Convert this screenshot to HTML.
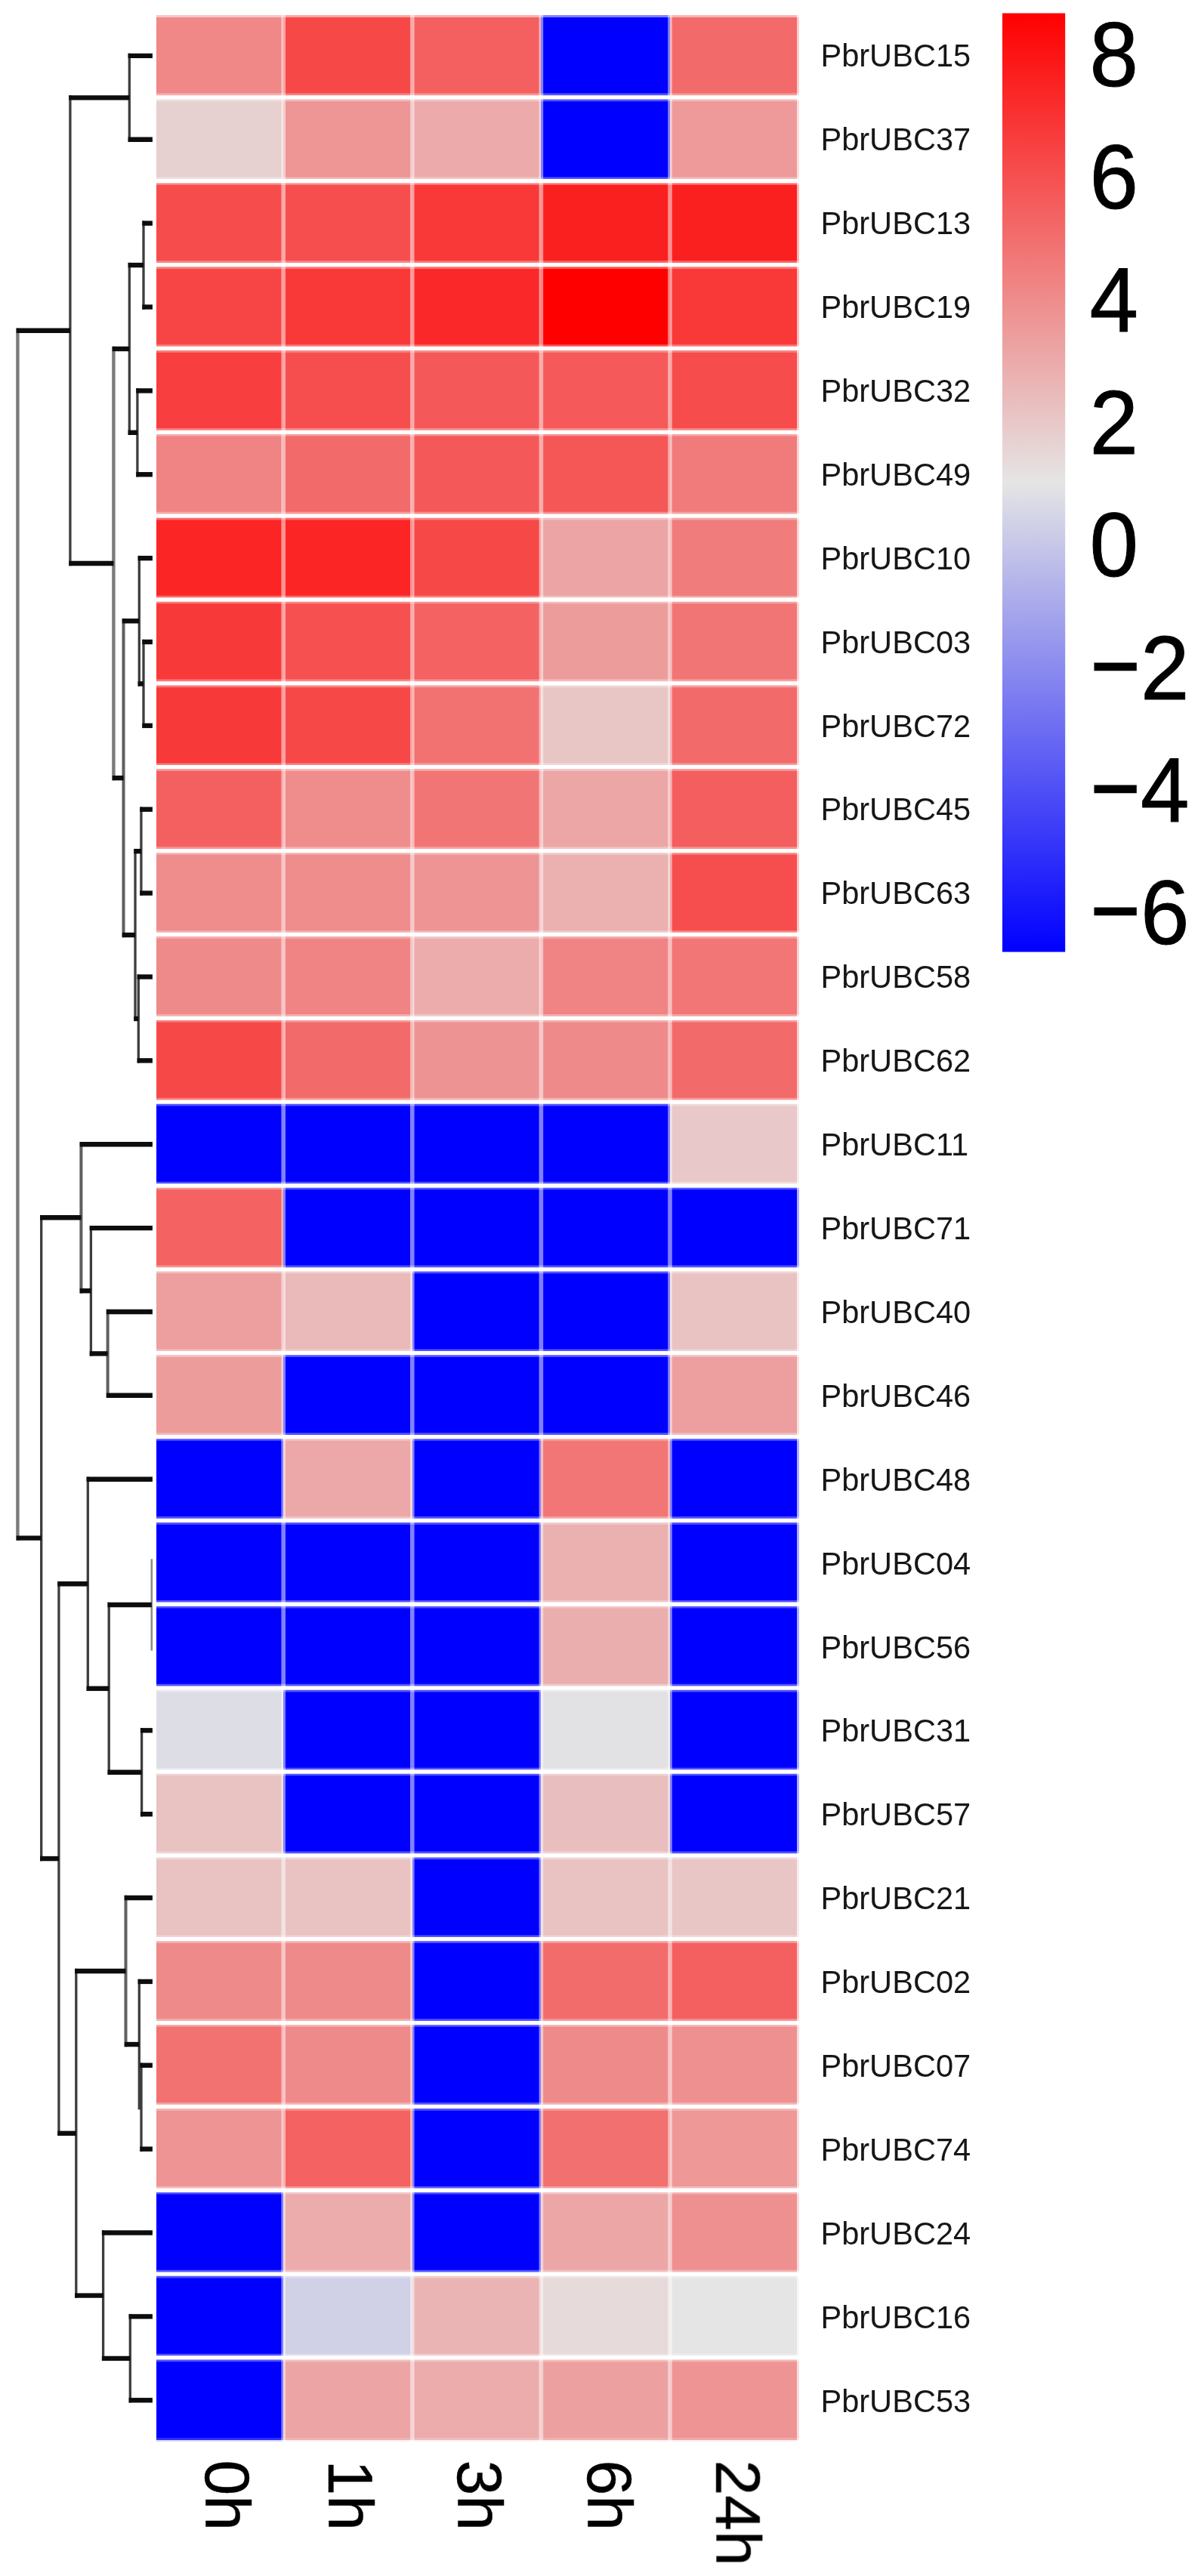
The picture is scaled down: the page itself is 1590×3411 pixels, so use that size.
<!DOCTYPE html>
<html lang="en"><head><meta charset="utf-8"><title>PbrUBC expression heatmap</title>
<style>
html,body{margin:0;padding:0;background:#fff;}
body{width:1590px;height:3411px;overflow:hidden;}
svg{display:block;}
text{font-family:"Liberation Sans",sans-serif;fill:#000;}
.rl{font-size:41.6px;fill:#161616;}
.cl{font-size:84px;stroke:#000;stroke-width:0.5;}
.lg{font-size:116px;stroke:#000;stroke-width:0.9;}
.mn{stroke-width:2.4;font-size:111px;}
.h{stroke:#0c0c0c;stroke-width:6.4;fill:none;stroke-linecap:butt;}
.v{stroke:#3c3c3c;stroke-width:3.3;fill:none;stroke-linecap:butt;}
</style></head><body>
<svg width="1590" height="3411" viewBox="0 0 1590 3411">
<defs><linearGradient id="cb" x1="0" y1="0" x2="0" y2="1"><stop offset="0" stop-color="#FF0000"/><stop offset="0.5" stop-color="#E5E5E5"/><stop offset="1" stop-color="#0000FF"/></linearGradient><filter id="soft" x="-5%" y="-5%" width="110%" height="110%"><feGaussianBlur stdDeviation="0.7"/></filter></defs>
<rect x="0" y="0" width="1590" height="3411" fill="#FFFFFF"/>
<g id="cells" shape-rendering="crispEdges">
<rect x="204.60" y="17.72" width="170.90" height="111.45" fill="#F08888"/>
<rect x="375.20" y="17.72" width="170.90" height="111.45" fill="#F74848"/>
<rect x="545.80" y="17.72" width="170.90" height="111.45" fill="#F46060"/>
<rect x="716.40" y="17.72" width="170.90" height="111.45" fill="#0000FF"/>
<rect x="887.00" y="17.72" width="170.90" height="111.45" fill="#F36A6A"/>
<rect x="204.60" y="128.58" width="170.90" height="111.45" fill="#E7D0D0"/>
<rect x="375.20" y="128.58" width="170.90" height="111.45" fill="#EE9595"/>
<rect x="545.80" y="128.58" width="170.90" height="111.45" fill="#ECAAAA"/>
<rect x="716.40" y="128.58" width="170.90" height="111.45" fill="#0000FF"/>
<rect x="887.00" y="128.58" width="170.90" height="111.45" fill="#EE9A9A"/>
<rect x="204.60" y="239.43" width="170.90" height="111.45" fill="#F64C4C"/>
<rect x="375.20" y="239.43" width="170.90" height="111.45" fill="#F64E4E"/>
<rect x="545.80" y="239.43" width="170.90" height="111.45" fill="#F93838"/>
<rect x="716.40" y="239.43" width="170.90" height="111.45" fill="#FB2020"/>
<rect x="887.00" y="239.43" width="170.90" height="111.45" fill="#FB2020"/>
<rect x="204.60" y="350.29" width="170.90" height="111.45" fill="#F74545"/>
<rect x="375.20" y="350.29" width="170.90" height="111.45" fill="#F93838"/>
<rect x="545.80" y="350.29" width="170.90" height="111.45" fill="#FA2828"/>
<rect x="716.40" y="350.29" width="170.90" height="111.45" fill="#FF0000"/>
<rect x="887.00" y="350.29" width="170.90" height="111.45" fill="#F93838"/>
<rect x="204.60" y="461.14" width="170.90" height="111.45" fill="#F83E3E"/>
<rect x="375.20" y="461.14" width="170.90" height="111.45" fill="#F64E4E"/>
<rect x="545.80" y="461.14" width="170.90" height="111.45" fill="#F55858"/>
<rect x="716.40" y="461.14" width="170.90" height="111.45" fill="#F55959"/>
<rect x="887.00" y="461.14" width="170.90" height="111.45" fill="#F64C4C"/>
<rect x="204.60" y="572.00" width="170.90" height="111.45" fill="#F08383"/>
<rect x="375.20" y="572.00" width="170.90" height="111.45" fill="#F36A6A"/>
<rect x="545.80" y="572.00" width="170.90" height="111.45" fill="#F55858"/>
<rect x="716.40" y="572.00" width="170.90" height="111.45" fill="#F55656"/>
<rect x="887.00" y="572.00" width="170.90" height="111.45" fill="#F17A7A"/>
<rect x="204.60" y="682.85" width="170.90" height="111.45" fill="#FB2525"/>
<rect x="375.20" y="682.85" width="170.90" height="111.45" fill="#FB2525"/>
<rect x="545.80" y="682.85" width="170.90" height="111.45" fill="#F74848"/>
<rect x="716.40" y="682.85" width="170.90" height="111.45" fill="#ECA4A4"/>
<rect x="887.00" y="682.85" width="170.90" height="111.45" fill="#F17C7C"/>
<rect x="204.60" y="793.71" width="170.90" height="111.45" fill="#F83939"/>
<rect x="375.20" y="793.71" width="170.90" height="111.45" fill="#F65050"/>
<rect x="545.80" y="793.71" width="170.90" height="111.45" fill="#F46262"/>
<rect x="716.40" y="793.71" width="170.90" height="111.45" fill="#ED9C9C"/>
<rect x="887.00" y="793.71" width="170.90" height="111.45" fill="#F27575"/>
<rect x="204.60" y="904.56" width="170.90" height="111.45" fill="#F83939"/>
<rect x="375.20" y="904.56" width="170.90" height="111.45" fill="#F74848"/>
<rect x="545.80" y="904.56" width="170.90" height="111.45" fill="#F27272"/>
<rect x="716.40" y="904.56" width="170.90" height="111.45" fill="#E9C6C6"/>
<rect x="887.00" y="904.56" width="170.90" height="111.45" fill="#F36A6A"/>
<rect x="204.60" y="1015.42" width="170.90" height="111.45" fill="#F46060"/>
<rect x="375.20" y="1015.42" width="170.90" height="111.45" fill="#EF8C8C"/>
<rect x="545.80" y="1015.42" width="170.90" height="111.45" fill="#F27575"/>
<rect x="716.40" y="1015.42" width="170.90" height="111.45" fill="#ECA6A6"/>
<rect x="887.00" y="1015.42" width="170.90" height="111.45" fill="#F45E5E"/>
<rect x="204.60" y="1126.27" width="170.90" height="111.45" fill="#EF8C8C"/>
<rect x="375.20" y="1126.27" width="170.90" height="111.45" fill="#EF8C8C"/>
<rect x="545.80" y="1126.27" width="170.90" height="111.45" fill="#EE9494"/>
<rect x="716.40" y="1126.27" width="170.90" height="111.45" fill="#EBB0B0"/>
<rect x="887.00" y="1126.27" width="170.90" height="111.45" fill="#F64E4E"/>
<rect x="204.60" y="1237.13" width="170.90" height="111.45" fill="#EF8A8A"/>
<rect x="375.20" y="1237.13" width="170.90" height="111.45" fill="#F08484"/>
<rect x="545.80" y="1237.13" width="170.90" height="111.45" fill="#ECACAC"/>
<rect x="716.40" y="1237.13" width="170.90" height="111.45" fill="#F08484"/>
<rect x="887.00" y="1237.13" width="170.90" height="111.45" fill="#F27676"/>
<rect x="204.60" y="1347.98" width="170.90" height="111.45" fill="#F74848"/>
<rect x="375.20" y="1347.98" width="170.90" height="111.45" fill="#F36A6A"/>
<rect x="545.80" y="1347.98" width="170.90" height="111.45" fill="#EE9393"/>
<rect x="716.40" y="1347.98" width="170.90" height="111.45" fill="#EF8A8A"/>
<rect x="887.00" y="1347.98" width="170.90" height="111.45" fill="#F36A6A"/>
<rect x="204.60" y="1458.84" width="170.90" height="111.45" fill="#0000FF"/>
<rect x="375.20" y="1458.84" width="170.90" height="111.45" fill="#0000FF"/>
<rect x="545.80" y="1458.84" width="170.90" height="111.45" fill="#0000FF"/>
<rect x="716.40" y="1458.84" width="170.90" height="111.45" fill="#0000FF"/>
<rect x="887.00" y="1458.84" width="170.90" height="111.45" fill="#E8C8C8"/>
<rect x="204.60" y="1569.69" width="170.90" height="111.45" fill="#F46262"/>
<rect x="375.20" y="1569.69" width="170.90" height="111.45" fill="#0000FF"/>
<rect x="545.80" y="1569.69" width="170.90" height="111.45" fill="#0000FF"/>
<rect x="716.40" y="1569.69" width="170.90" height="111.45" fill="#0000FF"/>
<rect x="887.00" y="1569.69" width="170.90" height="111.45" fill="#0000FF"/>
<rect x="204.60" y="1680.55" width="170.90" height="111.45" fill="#ED9E9E"/>
<rect x="375.20" y="1680.55" width="170.90" height="111.45" fill="#EAB9B9"/>
<rect x="545.80" y="1680.55" width="170.90" height="111.45" fill="#0000FF"/>
<rect x="716.40" y="1680.55" width="170.90" height="111.45" fill="#0000FF"/>
<rect x="887.00" y="1680.55" width="170.90" height="111.45" fill="#E9C2C2"/>
<rect x="204.60" y="1791.40" width="170.90" height="111.45" fill="#ED9C9C"/>
<rect x="375.20" y="1791.40" width="170.90" height="111.45" fill="#0000FF"/>
<rect x="545.80" y="1791.40" width="170.90" height="111.45" fill="#0000FF"/>
<rect x="716.40" y="1791.40" width="170.90" height="111.45" fill="#0000FF"/>
<rect x="887.00" y="1791.40" width="170.90" height="111.45" fill="#ED9E9E"/>
<rect x="204.60" y="1902.26" width="170.90" height="111.45" fill="#0000FF"/>
<rect x="375.20" y="1902.26" width="170.90" height="111.45" fill="#ECA8A8"/>
<rect x="545.80" y="1902.26" width="170.90" height="111.45" fill="#0000FF"/>
<rect x="716.40" y="1902.26" width="170.90" height="111.45" fill="#F27676"/>
<rect x="887.00" y="1902.26" width="170.90" height="111.45" fill="#0000FF"/>
<rect x="204.60" y="2013.11" width="170.90" height="111.45" fill="#0000FF"/>
<rect x="375.20" y="2013.11" width="170.90" height="111.45" fill="#0000FF"/>
<rect x="545.80" y="2013.11" width="170.90" height="111.45" fill="#0000FF"/>
<rect x="716.40" y="2013.11" width="170.90" height="111.45" fill="#EBB0B0"/>
<rect x="887.00" y="2013.11" width="170.90" height="111.45" fill="#0000FF"/>
<rect x="204.60" y="2123.97" width="170.90" height="111.45" fill="#0000FF"/>
<rect x="375.20" y="2123.97" width="170.90" height="111.45" fill="#0000FF"/>
<rect x="545.80" y="2123.97" width="170.90" height="111.45" fill="#0000FF"/>
<rect x="716.40" y="2123.97" width="170.90" height="111.45" fill="#EBAEAE"/>
<rect x="887.00" y="2123.97" width="170.90" height="111.45" fill="#0000FF"/>
<rect x="204.60" y="2234.82" width="170.90" height="111.45" fill="#DDDDE6"/>
<rect x="375.20" y="2234.82" width="170.90" height="111.45" fill="#0000FF"/>
<rect x="545.80" y="2234.82" width="170.90" height="111.45" fill="#0000FF"/>
<rect x="716.40" y="2234.82" width="170.90" height="111.45" fill="#E2E2E5"/>
<rect x="887.00" y="2234.82" width="170.90" height="111.45" fill="#0000FF"/>
<rect x="204.60" y="2345.68" width="170.90" height="111.45" fill="#E9C2C2"/>
<rect x="375.20" y="2345.68" width="170.90" height="111.45" fill="#0000FF"/>
<rect x="545.80" y="2345.68" width="170.90" height="111.45" fill="#0000FF"/>
<rect x="716.40" y="2345.68" width="170.90" height="111.45" fill="#E9BEBE"/>
<rect x="887.00" y="2345.68" width="170.90" height="111.45" fill="#0000FF"/>
<rect x="204.60" y="2456.53" width="170.90" height="111.45" fill="#E9C2C2"/>
<rect x="375.20" y="2456.53" width="170.90" height="111.45" fill="#E9C2C2"/>
<rect x="545.80" y="2456.53" width="170.90" height="111.45" fill="#0000FF"/>
<rect x="716.40" y="2456.53" width="170.90" height="111.45" fill="#E9C2C2"/>
<rect x="887.00" y="2456.53" width="170.90" height="111.45" fill="#E9C6C6"/>
<rect x="204.60" y="2567.39" width="170.90" height="111.45" fill="#EF8A8A"/>
<rect x="375.20" y="2567.39" width="170.90" height="111.45" fill="#EF8A8A"/>
<rect x="545.80" y="2567.39" width="170.90" height="111.45" fill="#0000FF"/>
<rect x="716.40" y="2567.39" width="170.90" height="111.45" fill="#F36C6C"/>
<rect x="887.00" y="2567.39" width="170.90" height="111.45" fill="#F46060"/>
<rect x="204.60" y="2678.24" width="170.90" height="111.45" fill="#F27272"/>
<rect x="375.20" y="2678.24" width="170.90" height="111.45" fill="#EF8A8A"/>
<rect x="545.80" y="2678.24" width="170.90" height="111.45" fill="#0000FF"/>
<rect x="716.40" y="2678.24" width="170.90" height="111.45" fill="#EF8A8A"/>
<rect x="887.00" y="2678.24" width="170.90" height="111.45" fill="#EF9090"/>
<rect x="204.60" y="2789.10" width="170.90" height="111.45" fill="#EE9494"/>
<rect x="375.20" y="2789.10" width="170.90" height="111.45" fill="#F46262"/>
<rect x="545.80" y="2789.10" width="170.90" height="111.45" fill="#0000FF"/>
<rect x="716.40" y="2789.10" width="170.90" height="111.45" fill="#F27070"/>
<rect x="887.00" y="2789.10" width="170.90" height="111.45" fill="#EE9898"/>
<rect x="204.60" y="2899.95" width="170.90" height="111.45" fill="#0000FF"/>
<rect x="375.20" y="2899.95" width="170.90" height="111.45" fill="#ECACAC"/>
<rect x="545.80" y="2899.95" width="170.90" height="111.45" fill="#0000FF"/>
<rect x="716.40" y="2899.95" width="170.90" height="111.45" fill="#ECA6A6"/>
<rect x="887.00" y="2899.95" width="170.90" height="111.45" fill="#EF9090"/>
<rect x="204.60" y="3010.81" width="170.90" height="111.45" fill="#0000FF"/>
<rect x="375.20" y="3010.81" width="170.90" height="111.45" fill="#D0D0E7"/>
<rect x="545.80" y="3010.81" width="170.90" height="111.45" fill="#EBB4B4"/>
<rect x="716.40" y="3010.81" width="170.90" height="111.45" fill="#E6DADA"/>
<rect x="887.00" y="3010.81" width="170.90" height="111.45" fill="#E5E5E5"/>
<rect x="204.60" y="3121.66" width="170.90" height="111.45" fill="#0000FF"/>
<rect x="375.20" y="3121.66" width="170.90" height="111.45" fill="#ECA4A4"/>
<rect x="545.80" y="3121.66" width="170.90" height="111.45" fill="#ECACAC"/>
<rect x="716.40" y="3121.66" width="170.90" height="111.45" fill="#EDA0A0"/>
<rect x="887.00" y="3121.66" width="170.90" height="111.45" fill="#EE9494"/>
</g>
<g id="grid" stroke="#FFFFFF" fill="none">
<line x1="375.20" y1="12.02" x2="375.20" y2="3238.82" stroke-width="5.6" stroke-opacity="0.5"/>
<line x1="545.80" y1="12.02" x2="545.80" y2="3238.82" stroke-width="5.6" stroke-opacity="0.5"/>
<line x1="716.40" y1="12.02" x2="716.40" y2="3238.82" stroke-width="5.6" stroke-opacity="0.5"/>
<line x1="887.00" y1="12.02" x2="887.00" y2="3238.82" stroke-width="5.6" stroke-opacity="0.5"/>
<line x1="201.60" y1="128.88" x2="1060.60" y2="128.88" stroke-width="10.6" stroke-opacity="0.32"/>
<line x1="201.60" y1="128.88" x2="1060.60" y2="128.88" stroke-width="5.3"/>
<line x1="201.60" y1="239.73" x2="1060.60" y2="239.73" stroke-width="10.6" stroke-opacity="0.32"/>
<line x1="201.60" y1="239.73" x2="1060.60" y2="239.73" stroke-width="5.3"/>
<line x1="201.60" y1="350.59" x2="1060.60" y2="350.59" stroke-width="10.6" stroke-opacity="0.32"/>
<line x1="201.60" y1="350.59" x2="1060.60" y2="350.59" stroke-width="5.3"/>
<line x1="201.60" y1="461.44" x2="1060.60" y2="461.44" stroke-width="10.6" stroke-opacity="0.32"/>
<line x1="201.60" y1="461.44" x2="1060.60" y2="461.44" stroke-width="5.3"/>
<line x1="201.60" y1="572.30" x2="1060.60" y2="572.30" stroke-width="10.6" stroke-opacity="0.32"/>
<line x1="201.60" y1="572.30" x2="1060.60" y2="572.30" stroke-width="5.3"/>
<line x1="201.60" y1="683.15" x2="1060.60" y2="683.15" stroke-width="10.6" stroke-opacity="0.32"/>
<line x1="201.60" y1="683.15" x2="1060.60" y2="683.15" stroke-width="5.3"/>
<line x1="201.60" y1="794.01" x2="1060.60" y2="794.01" stroke-width="10.6" stroke-opacity="0.32"/>
<line x1="201.60" y1="794.01" x2="1060.60" y2="794.01" stroke-width="5.3"/>
<line x1="201.60" y1="904.86" x2="1060.60" y2="904.86" stroke-width="10.6" stroke-opacity="0.32"/>
<line x1="201.60" y1="904.86" x2="1060.60" y2="904.86" stroke-width="5.3"/>
<line x1="201.60" y1="1015.72" x2="1060.60" y2="1015.72" stroke-width="10.6" stroke-opacity="0.32"/>
<line x1="201.60" y1="1015.72" x2="1060.60" y2="1015.72" stroke-width="5.3"/>
<line x1="201.60" y1="1126.57" x2="1060.60" y2="1126.57" stroke-width="10.6" stroke-opacity="0.32"/>
<line x1="201.60" y1="1126.57" x2="1060.60" y2="1126.57" stroke-width="5.3"/>
<line x1="201.60" y1="1237.43" x2="1060.60" y2="1237.43" stroke-width="10.6" stroke-opacity="0.32"/>
<line x1="201.60" y1="1237.43" x2="1060.60" y2="1237.43" stroke-width="5.3"/>
<line x1="201.60" y1="1348.28" x2="1060.60" y2="1348.28" stroke-width="10.6" stroke-opacity="0.32"/>
<line x1="201.60" y1="1348.28" x2="1060.60" y2="1348.28" stroke-width="5.3"/>
<line x1="201.60" y1="1459.14" x2="1060.60" y2="1459.14" stroke-width="10.6" stroke-opacity="0.32"/>
<line x1="201.60" y1="1459.14" x2="1060.60" y2="1459.14" stroke-width="5.3"/>
<line x1="201.60" y1="1569.99" x2="1060.60" y2="1569.99" stroke-width="10.6" stroke-opacity="0.32"/>
<line x1="201.60" y1="1569.99" x2="1060.60" y2="1569.99" stroke-width="5.3"/>
<line x1="201.60" y1="1680.85" x2="1060.60" y2="1680.85" stroke-width="10.6" stroke-opacity="0.32"/>
<line x1="201.60" y1="1680.85" x2="1060.60" y2="1680.85" stroke-width="5.3"/>
<line x1="201.60" y1="1791.70" x2="1060.60" y2="1791.70" stroke-width="10.6" stroke-opacity="0.32"/>
<line x1="201.60" y1="1791.70" x2="1060.60" y2="1791.70" stroke-width="5.3"/>
<line x1="201.60" y1="1902.56" x2="1060.60" y2="1902.56" stroke-width="10.6" stroke-opacity="0.32"/>
<line x1="201.60" y1="1902.56" x2="1060.60" y2="1902.56" stroke-width="5.3"/>
<line x1="201.60" y1="2013.41" x2="1060.60" y2="2013.41" stroke-width="10.6" stroke-opacity="0.32"/>
<line x1="201.60" y1="2013.41" x2="1060.60" y2="2013.41" stroke-width="5.3"/>
<line x1="201.60" y1="2124.27" x2="1060.60" y2="2124.27" stroke-width="10.6" stroke-opacity="0.32"/>
<line x1="201.60" y1="2124.27" x2="1060.60" y2="2124.27" stroke-width="5.3"/>
<line x1="201.60" y1="2235.12" x2="1060.60" y2="2235.12" stroke-width="10.6" stroke-opacity="0.32"/>
<line x1="201.60" y1="2235.12" x2="1060.60" y2="2235.12" stroke-width="5.3"/>
<line x1="201.60" y1="2345.98" x2="1060.60" y2="2345.98" stroke-width="10.6" stroke-opacity="0.32"/>
<line x1="201.60" y1="2345.98" x2="1060.60" y2="2345.98" stroke-width="5.3"/>
<line x1="201.60" y1="2456.83" x2="1060.60" y2="2456.83" stroke-width="10.6" stroke-opacity="0.32"/>
<line x1="201.60" y1="2456.83" x2="1060.60" y2="2456.83" stroke-width="5.3"/>
<line x1="201.60" y1="2567.69" x2="1060.60" y2="2567.69" stroke-width="10.6" stroke-opacity="0.32"/>
<line x1="201.60" y1="2567.69" x2="1060.60" y2="2567.69" stroke-width="5.3"/>
<line x1="201.60" y1="2678.54" x2="1060.60" y2="2678.54" stroke-width="10.6" stroke-opacity="0.32"/>
<line x1="201.60" y1="2678.54" x2="1060.60" y2="2678.54" stroke-width="5.3"/>
<line x1="201.60" y1="2789.40" x2="1060.60" y2="2789.40" stroke-width="10.6" stroke-opacity="0.32"/>
<line x1="201.60" y1="2789.40" x2="1060.60" y2="2789.40" stroke-width="5.3"/>
<line x1="201.60" y1="2900.25" x2="1060.60" y2="2900.25" stroke-width="10.6" stroke-opacity="0.32"/>
<line x1="201.60" y1="2900.25" x2="1060.60" y2="2900.25" stroke-width="5.3"/>
<line x1="201.60" y1="3011.11" x2="1060.60" y2="3011.11" stroke-width="10.6" stroke-opacity="0.32"/>
<line x1="201.60" y1="3011.11" x2="1060.60" y2="3011.11" stroke-width="5.3"/>
<line x1="201.60" y1="3121.96" x2="1060.60" y2="3121.96" stroke-width="10.6" stroke-opacity="0.32"/>
<line x1="201.60" y1="3121.96" x2="1060.60" y2="3121.96" stroke-width="5.3"/>
</g>
<g id="edges" fill="#FFFFFF" shape-rendering="crispEdges">
<rect x="190" y="0" width="17.25" height="3300"/>
<rect x="1058" y="0" width="20" height="3300"/>
<rect x="1055" y="0" width="3" height="3300" fill-opacity="0.68"/>
<rect x="190" y="0" width="890" height="20"/>
<rect x="190" y="20" width="890" height="3" fill-opacity="0.5"/>
<rect x="190" y="3233" width="890" height="20"/>
<rect x="190" y="3230.5" width="890" height="2.5" fill-opacity="0.85"/>
<rect x="190" y="3228" width="890" height="2.5" fill-opacity="0.18"/>
</g>
<g id="rowlabels" filter="url(#soft)">
<text class="rl" transform="translate(1086.4,88.35) scale(1,1.03)">PbrUBC15</text>
<text class="rl" transform="translate(1086.4,199.25) scale(1,1.03)">PbrUBC37</text>
<text class="rl" transform="translate(1086.4,310.16) scale(1,1.03)">PbrUBC13</text>
<text class="rl" transform="translate(1086.4,421.07) scale(1,1.03)">PbrUBC19</text>
<text class="rl" transform="translate(1086.4,531.97) scale(1,1.03)">PbrUBC32</text>
<text class="rl" transform="translate(1086.4,642.88) scale(1,1.03)">PbrUBC49</text>
<text class="rl" transform="translate(1086.4,753.78) scale(1,1.03)">PbrUBC10</text>
<text class="rl" transform="translate(1086.4,864.69) scale(1,1.03)">PbrUBC03</text>
<text class="rl" transform="translate(1086.4,975.59) scale(1,1.03)">PbrUBC72</text>
<text class="rl" transform="translate(1086.4,1086.49) scale(1,1.03)">PbrUBC45</text>
<text class="rl" transform="translate(1086.4,1197.40) scale(1,1.03)">PbrUBC63</text>
<text class="rl" transform="translate(1086.4,1308.30) scale(1,1.03)">PbrUBC58</text>
<text class="rl" transform="translate(1086.4,1419.21) scale(1,1.03)">PbrUBC62</text>
<text class="rl" transform="translate(1086.4,1530.12) scale(1,1.03)">PbrUBC11</text>
<text class="rl" transform="translate(1086.4,1641.02) scale(1,1.03)">PbrUBC71</text>
<text class="rl" transform="translate(1086.4,1751.92) scale(1,1.03)">PbrUBC40</text>
<text class="rl" transform="translate(1086.4,1862.83) scale(1,1.03)">PbrUBC46</text>
<text class="rl" transform="translate(1086.4,1973.73) scale(1,1.03)">PbrUBC48</text>
<text class="rl" transform="translate(1086.4,2084.64) scale(1,1.03)">PbrUBC04</text>
<text class="rl" transform="translate(1086.4,2195.55) scale(1,1.03)">PbrUBC56</text>
<text class="rl" transform="translate(1086.4,2306.45) scale(1,1.03)">PbrUBC31</text>
<text class="rl" transform="translate(1086.4,2417.36) scale(1,1.03)">PbrUBC57</text>
<text class="rl" transform="translate(1086.4,2528.26) scale(1,1.03)">PbrUBC21</text>
<text class="rl" transform="translate(1086.4,2639.16) scale(1,1.03)">PbrUBC02</text>
<text class="rl" transform="translate(1086.4,2750.07) scale(1,1.03)">PbrUBC07</text>
<text class="rl" transform="translate(1086.4,2860.97) scale(1,1.03)">PbrUBC74</text>
<text class="rl" transform="translate(1086.4,2971.88) scale(1,1.03)">PbrUBC24</text>
<text class="rl" transform="translate(1086.4,3082.78) scale(1,1.03)">PbrUBC16</text>
<text class="rl" transform="translate(1086.4,3193.69) scale(1,1.03)">PbrUBC53</text>
</g>
<g id="collabels" filter="url(#soft)">
<text class="cl" transform="translate(272.40,3257.5) rotate(90)">0h</text>
<text class="cl" transform="translate(435.00,3257.5) rotate(90)">1h</text>
<text class="cl" transform="translate(605.60,3257.5) rotate(90)">3h</text>
<text class="cl" transform="translate(778.20,3257.5) rotate(90)">6h</text>
<text class="cl" transform="translate(948.20,3257.5) rotate(90)">24h</text>
</g>
<rect x="1327" y="17.5" width="83.2" height="1243" fill="url(#cb)"/>
<g id="legend" filter="url(#soft)">
<text class="lg" transform="translate(1442.5,113.90) scale(1,1.034)">8</text>
<text class="lg" transform="translate(1442.5,276.26) scale(1,1.034)">6</text>
<text class="lg" transform="translate(1442.5,438.62) scale(1,1.034)">4</text>
<text class="lg" transform="translate(1442.5,600.98) scale(1,1.034)">2</text>
<text class="lg" transform="translate(1442.5,763.34) scale(1,1.034)">0</text>
<text class="lg" transform="translate(1442.5,925.70) scale(1,1.034)"><tspan class="mn" x="1.5" dy="-5.0">−</tspan><tspan x="67.5" dy="5.0">2</tspan></text>
<text class="lg" transform="translate(1442.5,1088.06) scale(1,1.034)"><tspan class="mn" x="1.5" dy="-5.0">−</tspan><tspan x="67.5" dy="5.0">4</tspan></text>
<text class="lg" transform="translate(1442.5,1250.42) scale(1,1.034)"><tspan class="mn" x="1.5" dy="-5.0">−</tspan><tspan x="67.5" dy="5.0">6</tspan></text>
</g>
<g id="dendrogram" filter="url(#soft)">
<line class="v" x1="171.30" y1="70.70" x2="171.30" y2="187.97"/>
<line class="v" x1="190.00" y1="292.44" x2="190.00" y2="409.71"/>
<line class="v" x1="181.90" y1="514.18" x2="181.90" y2="631.45"/>
<line class="v" x1="171.30" y1="347.88" x2="171.30" y2="576.02"/>
<line class="v" x1="190.00" y1="846.79" x2="190.00" y2="964.06"/>
<line class="v" x1="184.30" y1="735.92" x2="184.30" y2="908.62"/>
<line class="v" x1="186.90" y1="1068.53" x2="186.90" y2="1185.80"/>
<line class="v" x1="183.30" y1="1290.27" x2="183.30" y2="1407.54"/>
<line class="v" x1="179.00" y1="1123.96" x2="179.00" y2="1352.11"/>
<line class="v" x1="163.50" y1="819.07" x2="163.50" y2="1241.24" style="stroke:#5e5e5e;stroke-width:4.0"/>
<line class="v" x1="150.40" y1="458.75" x2="150.40" y2="1033.35" style="stroke:#7a7a7a;stroke-width:4.4"/>
<line class="v" x1="92.90" y1="126.14" x2="92.90" y2="749.25"/>
<line class="v" x1="142.60" y1="1733.75" x2="142.60" y2="1851.02" style="stroke:#5e5e5e;stroke-width:4.0"/>
<line class="v" x1="120.40" y1="1622.88" x2="120.40" y2="1795.59"/>
<line class="v" x1="107.40" y1="1512.01" x2="107.40" y2="1712.43" style="stroke:#5e5e5e;stroke-width:4.0"/>
<line class="v" x1="200.80" y1="2064.36" x2="200.80" y2="2185.63" style="stroke:#8c8c8c;stroke-width:2.6"/>
<line class="v" x1="187.60" y1="2288.10" x2="187.60" y2="2405.37"/>
<line class="v" x1="144.20" y1="2121.80" x2="144.20" y2="2349.93"/>
<line class="v" x1="116.30" y1="1955.49" x2="116.30" y2="2239.06"/>
<line class="v" x1="187.00" y1="2731.58" x2="187.00" y2="2848.85"/>
<line class="v" x1="184.30" y1="2620.71" x2="184.30" y2="2793.41"/>
<line class="v" x1="166.50" y1="2509.84" x2="166.50" y2="2710.26" style="stroke:#5e5e5e;stroke-width:4.0"/>
<line class="v" x1="172.30" y1="3064.19" x2="172.30" y2="3181.46"/>
<line class="v" x1="136.60" y1="2953.32" x2="136.60" y2="3126.03"/>
<line class="v" x1="100.80" y1="2606.85" x2="100.80" y2="3042.87"/>
<line class="v" x1="77.90" y1="2094.08" x2="77.90" y2="2828.06"/>
<line class="v" x1="54.70" y1="1609.02" x2="54.70" y2="2464.27"/>
<line class="v" x1="23.40" y1="434.49" x2="23.40" y2="2039.85" style="stroke:#7a7a7a;stroke-width:4.4"/>
<line class="h" x1="169.60" y1="73.90" x2="201.90" y2="73.90"/>
<line class="h" x1="169.60" y1="184.77" x2="201.90" y2="184.77"/>
<line class="h" x1="188.30" y1="295.64" x2="201.90" y2="295.64"/>
<line class="h" x1="188.30" y1="406.51" x2="201.90" y2="406.51"/>
<line class="h" x1="180.20" y1="517.38" x2="201.90" y2="517.38"/>
<line class="h" x1="180.20" y1="628.25" x2="201.90" y2="628.25"/>
<line class="h" x1="169.60" y1="351.07" x2="190.00" y2="351.07"/>
<line class="h" x1="169.60" y1="572.82" x2="181.90" y2="572.82"/>
<line class="h" x1="188.30" y1="849.99" x2="201.90" y2="849.99"/>
<line class="h" x1="188.30" y1="960.86" x2="201.90" y2="960.86"/>
<line class="h" x1="182.60" y1="739.12" x2="201.90" y2="739.12"/>
<line class="h" x1="182.60" y1="905.42" x2="190.00" y2="905.42"/>
<line class="h" x1="185.20" y1="1071.73" x2="201.90" y2="1071.73"/>
<line class="h" x1="185.20" y1="1182.60" x2="201.90" y2="1182.60"/>
<line class="h" x1="181.60" y1="1293.47" x2="201.90" y2="1293.47"/>
<line class="h" x1="181.60" y1="1404.34" x2="201.90" y2="1404.34"/>
<line class="h" x1="177.30" y1="1127.16" x2="186.90" y2="1127.16"/>
<line class="h" x1="177.30" y1="1348.91" x2="183.30" y2="1348.91"/>
<line class="h" x1="161.80" y1="822.27" x2="184.30" y2="822.27"/>
<line class="h" x1="161.80" y1="1238.04" x2="179.00" y2="1238.04"/>
<line class="h" x1="148.70" y1="461.95" x2="171.30" y2="461.95"/>
<line class="h" x1="148.70" y1="1030.15" x2="163.50" y2="1030.15"/>
<line class="h" x1="91.20" y1="129.34" x2="171.30" y2="129.34"/>
<line class="h" x1="91.20" y1="746.05" x2="150.40" y2="746.05"/>
<line class="h" x1="140.90" y1="1736.95" x2="201.90" y2="1736.95"/>
<line class="h" x1="140.90" y1="1847.82" x2="201.90" y2="1847.82"/>
<line class="h" x1="118.70" y1="1626.08" x2="201.90" y2="1626.08"/>
<line class="h" x1="118.70" y1="1792.39" x2="142.60" y2="1792.39"/>
<line class="h" x1="105.70" y1="1515.21" x2="201.90" y2="1515.21"/>
<line class="h" x1="105.70" y1="1709.23" x2="120.40" y2="1709.23"/>
<line class="h" x1="185.90" y1="2291.30" x2="201.90" y2="2291.30"/>
<line class="h" x1="185.90" y1="2402.17" x2="201.90" y2="2402.17"/>
<line class="h" x1="142.50" y1="2124.99" x2="200.80" y2="2124.99"/>
<line class="h" x1="142.50" y1="2346.74" x2="187.60" y2="2346.74"/>
<line class="h" x1="114.60" y1="1958.69" x2="201.90" y2="1958.69"/>
<line class="h" x1="114.60" y1="2235.86" x2="144.20" y2="2235.86"/>
<line class="h" x1="185.30" y1="2734.78" x2="201.90" y2="2734.78"/>
<line class="h" x1="185.30" y1="2845.65" x2="201.90" y2="2845.65"/>
<line class="h" x1="182.60" y1="2623.91" x2="201.90" y2="2623.91"/>
<line class="h" x1="164.80" y1="2513.04" x2="201.90" y2="2513.04"/>
<line class="h" x1="164.80" y1="2707.06" x2="184.30" y2="2707.06"/>
<line class="h" x1="170.60" y1="3067.39" x2="201.90" y2="3067.39"/>
<line class="h" x1="170.60" y1="3178.26" x2="201.90" y2="3178.26"/>
<line class="h" x1="134.90" y1="2956.52" x2="201.90" y2="2956.52"/>
<line class="h" x1="134.90" y1="3122.83" x2="172.30" y2="3122.83"/>
<line class="h" x1="99.10" y1="2610.05" x2="166.50" y2="2610.05"/>
<line class="h" x1="99.10" y1="3039.67" x2="136.60" y2="3039.67"/>
<line class="h" x1="76.20" y1="2097.28" x2="116.30" y2="2097.28"/>
<line class="h" x1="76.20" y1="2824.86" x2="100.80" y2="2824.86"/>
<line class="h" x1="53.00" y1="1612.22" x2="107.40" y2="1612.22"/>
<line class="h" x1="53.00" y1="2461.07" x2="77.90" y2="2461.07"/>
<line class="h" x1="21.70" y1="437.69" x2="92.90" y2="437.69"/>
<line class="h" x1="21.70" y1="2036.65" x2="54.70" y2="2036.65"/>
</g>
</svg>
</body></html>
